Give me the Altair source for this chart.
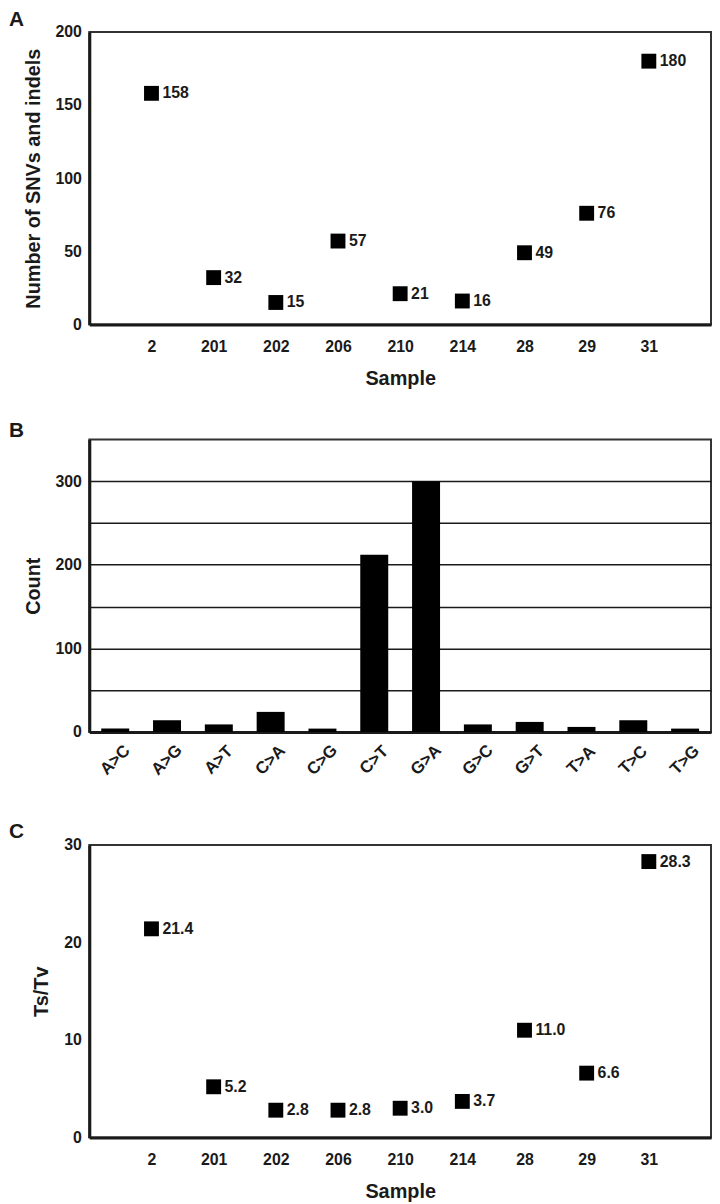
import altair as alt
import pandas as pd

FONT = "Liberation Sans"
INK = "#1a1a1a"

# ---- data ----
samples = ["2", "201", "202", "206", "210", "214", "28", "29", "31"]
variant_counts = [158, 32, 15, 57, 21, 16, 49, 76, 180]
variant_labels = ["158", "32", "15", "57", "21", "16", "49", "76", "180"]

substitutions = ["A>C", "A>G", "A>T", "C>A", "C>G", "C>T",
                 "G>A", "G>C", "G>T", "T>A", "T>C", "T>G"]
substitution_counts = [4, 14, 9, 24, 4, 212, 300, 9, 12, 6, 14, 4]

ts_tv = [21.4, 5.2, 2.8, 2.8, 3.0, 3.7, 11.0, 6.6, 28.3]
ts_tv_labels = ["21.4", "5.2", "2.8", "2.8", "3.0", "3.7", "11.0", "6.6", "28.3"]

ticks_a = [0, 50, 100, 150, 200]
ticks_b = [0, 50, 100, 150, 200, 250, 300]
ticks_c = [0, 10, 20, 30]

W = 627
H = 295


def panel_letter(letter, y_off):
    return alt.Chart(pd.DataFrame({"panel": [letter]})).mark_text(
        align="left", baseline="alphabetic", font=FONT, fontSize=21,
        fontWeight="bold", color=INK
    ).encode(text="panel:N", x=alt.value(-81), y=alt.value(y_off))


def scatter_panel(values, labels, y_title, y_max, y_ticks, letter, y_off):
    df = pd.DataFrame({"Sample": samples, "value": values, "label": labels})
    base = alt.Chart(df).encode(
        x=alt.X("Sample:N", sort=samples,
                scale=alt.Scale(type="point", padding=1),
                axis=alt.Axis(title="Sample", labelAngle=0, labelPadding=14,
                              titlePadding=15)),
        y=alt.Y("value:Q", scale=alt.Scale(domain=[0, y_max], nice=False),
                axis=alt.Axis(title=y_title, values=y_ticks, labelPadding=8,
                              titlePadding=12)),
    )
    pts = base.mark_point(shape="square", filled=True, size=225,
                          color="black", opacity=1)
    txt = base.mark_text(align="left", baseline="middle", dx=11, font=FONT,
                         fontSize=16, fontWeight="bold", color=INK
                         ).encode(text="label:N")
    return alt.layer(pts, txt, panel_letter(letter, y_off)).properties(
        width=W, height=H)


panel_a = scatter_panel(variant_counts, variant_labels,
                        "Number of SNVs and indels", 200, ticks_a, "A", -6)

df_b = pd.DataFrame({"Substitution": substitutions, "Count": substitution_counts})
bars = alt.Chart(df_b).mark_bar(color="black").encode(
    x=alt.X("Substitution:N", sort=substitutions,
            scale=alt.Scale(paddingInner=0.46, paddingOuter=0.23),
            axis=alt.Axis(title=None, labelAngle=315, labelAlign="center",
                          labelBaseline="middle", labelPadding=28,
                          labelFontSize=17)),
    y=alt.Y("Count:Q", scale=alt.Scale(domain=[0, 350], nice=False),
            axis=alt.Axis(title="Count", values=ticks_b, grid=True,
                          gridColor=INK, gridWidth=1.5,
                          labelExpr="datum.value % 100 === 0 ? datum.label : ''",
                          labelPadding=8, titlePadding=12)),
)
panel_b = alt.layer(bars, panel_letter("B", -2)).properties(width=W, height=H)

panel_c = scatter_panel(ts_tv, ts_tv_labels, "Ts/Tv", 30, ticks_c, "C", -7)

chart = alt.vconcat(
    alt.vconcat(panel_a, panel_b, spacing=30),
    panel_c,
    spacing=41,
).properties(
    padding={"top": -5, "left": 0, "right": 0, "bottom": 0}
).configure_view(
    stroke="#333333", strokeWidth=2
).configure_axis(
    labelFont=FONT, titleFont=FONT, labelFontSize=16, titleFontSize=20,
    labelFontWeight="bold", titleFontWeight="bold",
    labelColor=INK, titleColor=INK, domainColor=INK, domainWidth=3,
    ticks=False, grid=False
)

chart.save("out.html", embed_options={"renderer": "svg", "actions": False})
